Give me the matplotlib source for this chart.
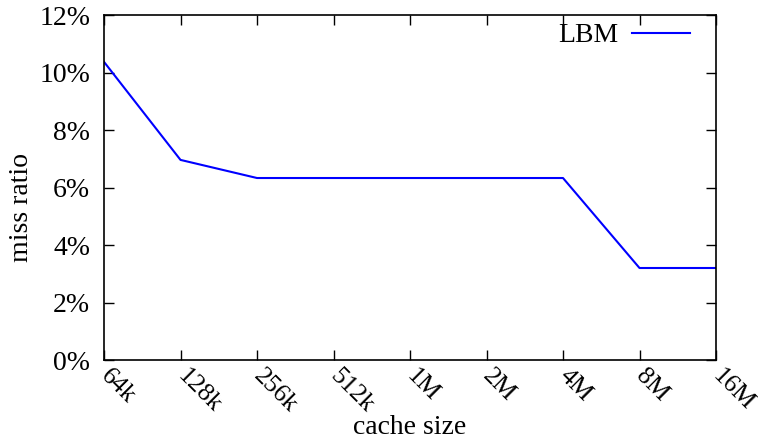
import matplotlib.pyplot as plt
from matplotlib.ticker import FuncFormatter

plt.rcParams['font.family'] = ['Liberation Serif', 'DejaVu Serif']
plt.rcParams['font.size'] = 20

sizes = ['64k', '128k', '256k', '512k', '1M', '2M', '4M', '8M', '16M']
miss = [10.37, 6.96, 6.33, 6.33, 6.33, 6.33, 6.33, 3.2, 3.2]

fig = plt.figure(figsize=(7.58, 4.4), dpi=100)
ax = fig.add_axes([104 / 758, 80 / 440, 612 / 758, 345 / 440])

x = list(range(len(sizes)))
ax.plot(x, miss, color='#0000ff', lw=1.5, label='LBM')

ax.set_xlim(0, len(sizes) - 1)
ax.set_ylim(0, 12)
ax.set_xticks(x)
ax.set_xticklabels(sizes, rotation=-45, ha='left', va='center',
                   rotation_mode='anchor', fontsize=18.5)
ax.set_yticks(range(0, 13, 2))
ax.yaxis.set_major_formatter(FuncFormatter(lambda v, p: '%d%%' % v))
ax.tick_params(direction='in', top=True, right=True, length=7, width=1)
ax.tick_params(axis='y', pad=10)
ax.tick_params(axis='x', pad=9)
for s in ax.spines.values():
    s.set_linewidth(1.2)

ax.set_xlabel('cache size', va='center')
ax.xaxis.set_label_coords(0.5, -0.195)
ax.set_ylabel('miss ratio', va='center')
ax.yaxis.set_label_coords(-0.135, 0.443)

ax.legend(loc='upper right', frameon=False, markerfirst=False,
          handlelength=2.1, borderaxespad=0.0, handletextpad=0.47,
          bbox_to_anchor=(0.9755, 1.009))

fig.savefig('out.png', dpi=100)
